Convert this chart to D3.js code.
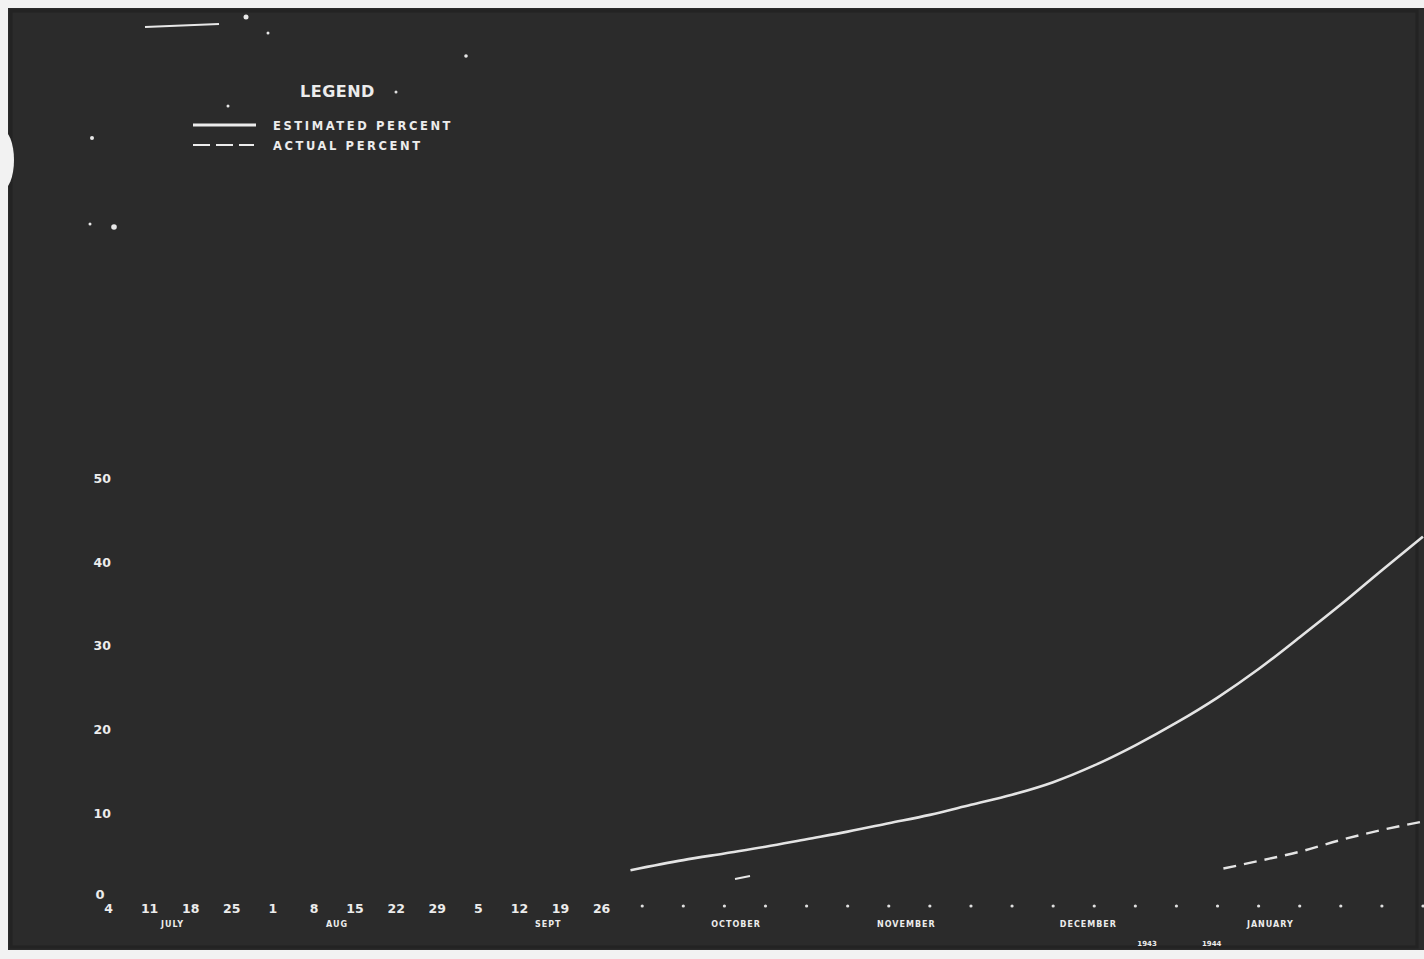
<!DOCTYPE html>
<html>
<head>
<meta charset="utf-8">
<script src="https://cdn.jsdelivr.net/npm/d3@7"></script>
<style>
  html, body { margin: 0; padding: 0; background: #f2f2f2; }
  svg { display: block; }
  text { font-family: "DejaVu Sans", "Liberation Sans", sans-serif; font-weight: bold; fill: #ececec; }
</style>
</head>
<body>
<svg id="chart" width="1424" height="959"></svg>
<script>
// ---- data ----
const weekDates = ["1943-07-04","1943-07-11","1943-07-18","1943-07-25","1943-08-01","1943-08-08",
  "1943-08-15","1943-08-22","1943-08-29","1943-09-05","1943-09-12","1943-09-19","1943-09-26",
  "1943-10-03","1943-10-10","1943-10-17","1943-10-24","1943-10-31","1943-11-07","1943-11-14",
  "1943-11-21","1943-11-28","1943-12-05","1943-12-12","1943-12-19","1943-12-26","1944-01-02",
  "1944-01-09","1944-01-16","1944-01-23","1944-01-30","1944-02-06","1944-02-13"];
// only the Jul-Sep day labels survive legibly in the original
const dayLabels = ["4","11","18","25","1","8","15","22","29","5","12","19","26"];
const months = [
  {name: "JULY", date: "1943-07-15"},
  {name: "AUG", date: "1943-08-12"},
  {name: "SEPT", date: "1943-09-17"},
  {name: "OCTOBER", date: "1943-10-19"},
  {name: "NOVEMBER", date: "1943-11-17"},
  {name: "DECEMBER", date: "1943-12-18"},
  {name: "JANUARY", date: "1944-01-18"}
];
const years = [{name: "1943", date: "1943-12-28"}, {name: "1944", date: "1944-01-08"}];
const yTicks = [0, 10, 20, 30, 40, 50];

const estimatedDates = ["1943-10-01","1943-10-10","1943-10-17","1943-10-24","1943-10-31","1943-11-07",
  "1943-11-14","1943-11-21","1943-11-28","1943-12-05","1943-12-12","1943-12-19","1943-12-26",
  "1944-01-02","1944-01-09","1944-01-16","1944-01-23","1944-01-30","1944-02-06","1944-02-13"];
const estimatedPercent = [3.2, 4.4, 5.2, 6.0, 6.9, 7.8, 8.8, 9.8, 11.0, 12.2, 13.7, 15.7, 18.1,
  20.8, 23.8, 27.2, 31.0, 34.9, 39.0, 43.0];

const actualDates = ["1944-01-10","1944-01-16","1944-01-23","1944-01-30","1944-02-06","1944-02-13"];
const actualPercent = [3.4, 4.3, 5.4, 6.8, 8.0, 9.0];

// ---- drawing ----
const parse = d3.timeParse("%Y-%m-%d");
const svg = d3.select("#chart");

// photographed board
svg.append("rect").attr("x", 8).attr("y", 8).attr("width", 1416).attr("height", 942)
  .attr("fill", "#2b2b2b");
svg.append("rect").attr("x", 11).attr("y", 11).attr("width", 1406).attr("height", 936)
  .attr("fill", "none").attr("stroke", "#232323").attr("stroke-width", 3);
svg.append("ellipse").attr("cx", 2).attr("cy", 160).attr("rx", 12).attr("ry", 30).attr("fill", "#f2f2f2");

const x = d3.scaleTime()
  .domain([parse("1943-07-04"), parse("1944-02-13")])
  .range([108, 1423]);
const y = d3.scaleLinear().domain([0, 50]).range([897, 478]);

svg.append("clipPath").attr("id", "plot")
  .append("rect").attr("x", 8).attr("y", 8).attr("width", 1416).attr("height", 942);

// y axis labels (no axis line visible)
const yAxis = d3.axisLeft(y).tickValues(yTicks.filter(d => d > 0)).tickSize(0).tickPadding(0);
const yg = svg.append("g").attr("transform", "translate(111,0)").call(yAxis);
yg.select(".domain").remove();
yg.selectAll("text").attr("font-size", 12.5).attr("font-family", "DejaVu Sans")
  .attr("font-weight", "bold").attr("fill", "#ececec").attr("dy", "0.35em");
svg.append("text").attr("x", 100).attr("y", y(0) + 2).attr("text-anchor", "middle")
  .attr("font-size", 13).text("0");

// x axis: day labels for legible weeks, small marks for the rest
const xAxis = d3.axisBottom(x)
  .tickValues(weekDates.slice(0, dayLabels.length).map(parse))
  .tickFormat((d, i) => dayLabels[i]).tickSize(0).tickPadding(0);
const xg = svg.append("g").attr("transform", "translate(0,914)").call(xAxis);
xg.select(".domain").remove();
xg.selectAll("text").attr("font-size", 12.5).attr("font-family", "DejaVu Sans")
  .attr("font-weight", "bold").attr("fill", "#ececec").attr("dy", "-0.1em");

svg.append("g").selectAll("circle")
  .data(weekDates.slice(dayLabels.length).map(parse))
  .join("circle")
  .attr("cx", d => x(d)).attr("cy", 906).attr("r", 1.6).attr("fill", "#e0e0e0");

// month labels
svg.append("g").selectAll("text").data(months).join("text")
  .attr("x", d => x(parse(d.date))).attr("y", 927).attr("text-anchor", "middle")
  .attr("font-size", 8).attr("letter-spacing", 1).attr("fill", "#d8d8d8")
  .text(d => d.name);
svg.append("g").selectAll("text").data(years).join("text")
  .attr("x", d => x(parse(d.date))).attr("y", 946).attr("text-anchor", "middle")
  .attr("font-size", 7).attr("fill", "#cfcfcf")
  .text(d => d.name);

// lines
const line = d3.line().x(d => x(d[0])).y(d => y(d[1])).curve(d3.curveMonotoneX);
const est = estimatedDates.map((d, i) => [parse(d), estimatedPercent[i]]);
const act = actualDates.map((d, i) => [parse(d), actualPercent[i]]);
const lines = svg.append("g").attr("clip-path", "url(#plot)");
lines.append("path").datum(est).attr("d", line).attr("fill", "none")
  .attr("stroke", "#e4e4e4").attr("stroke-width", 2.6);
lines.append("path").datum(act).attr("d", line).attr("fill", "none")
  .attr("stroke", "#e4e4e4").attr("stroke-width", 2.4).attr("stroke-dasharray", "13,8");

// legend
const lg = svg.append("g");
lg.append("text").attr("x", 300).attr("y", 97).attr("font-size", 16).attr("letter-spacing", 0.5).text("LEGEND");
lg.append("circle").attr("cx", 396).attr("cy", 92).attr("r", 1.5).attr("fill", "#e0e0e0");
lg.append("line").attr("x1", 193).attr("x2", 256).attr("y1", 125).attr("y2", 125)
  .attr("stroke", "#ececec").attr("stroke-width", 3);
lg.append("line").attr("x1", 193).attr("x2", 254).attr("y1", 145).attr("y2", 145)
  .attr("stroke", "#ececec").attr("stroke-width", 2).attr("stroke-dasharray", "17,6");
lg.append("text").attr("x", 273).attr("y", 130).attr("font-size", 11.5).attr("letter-spacing", 2.6)
  .text("ESTIMATED PERCENT");
lg.append("text").attr("x", 273).attr("y", 150).attr("font-size", 11.5).attr("letter-spacing", 2.6)
  .text("ACTUAL PERCENT");

// stray photographic specks
const specks = svg.append("g").attr("fill", "#e8e8e8");
specks.append("line").attr("x1", 145).attr("x2", 219).attr("y1", 27).attr("y2", 24)
  .attr("stroke", "#e8e8e8").attr("stroke-width", 2);
[[246,17,2.5],[268,33,1.5],[466,56,1.8],[92,138,2],[90,224,1.5],[114,227,2.8],[228,106,1.5]]
  .forEach(p => specks.append("circle").attr("cx", p[0]).attr("cy", p[1]).attr("r", p[2]));
specks.append("line").attr("x1", 735).attr("x2", 750).attr("y1", 879).attr("y2", 876)
  .attr("stroke", "#e8e8e8").attr("stroke-width", 2);
</script>
</body>
</html>
